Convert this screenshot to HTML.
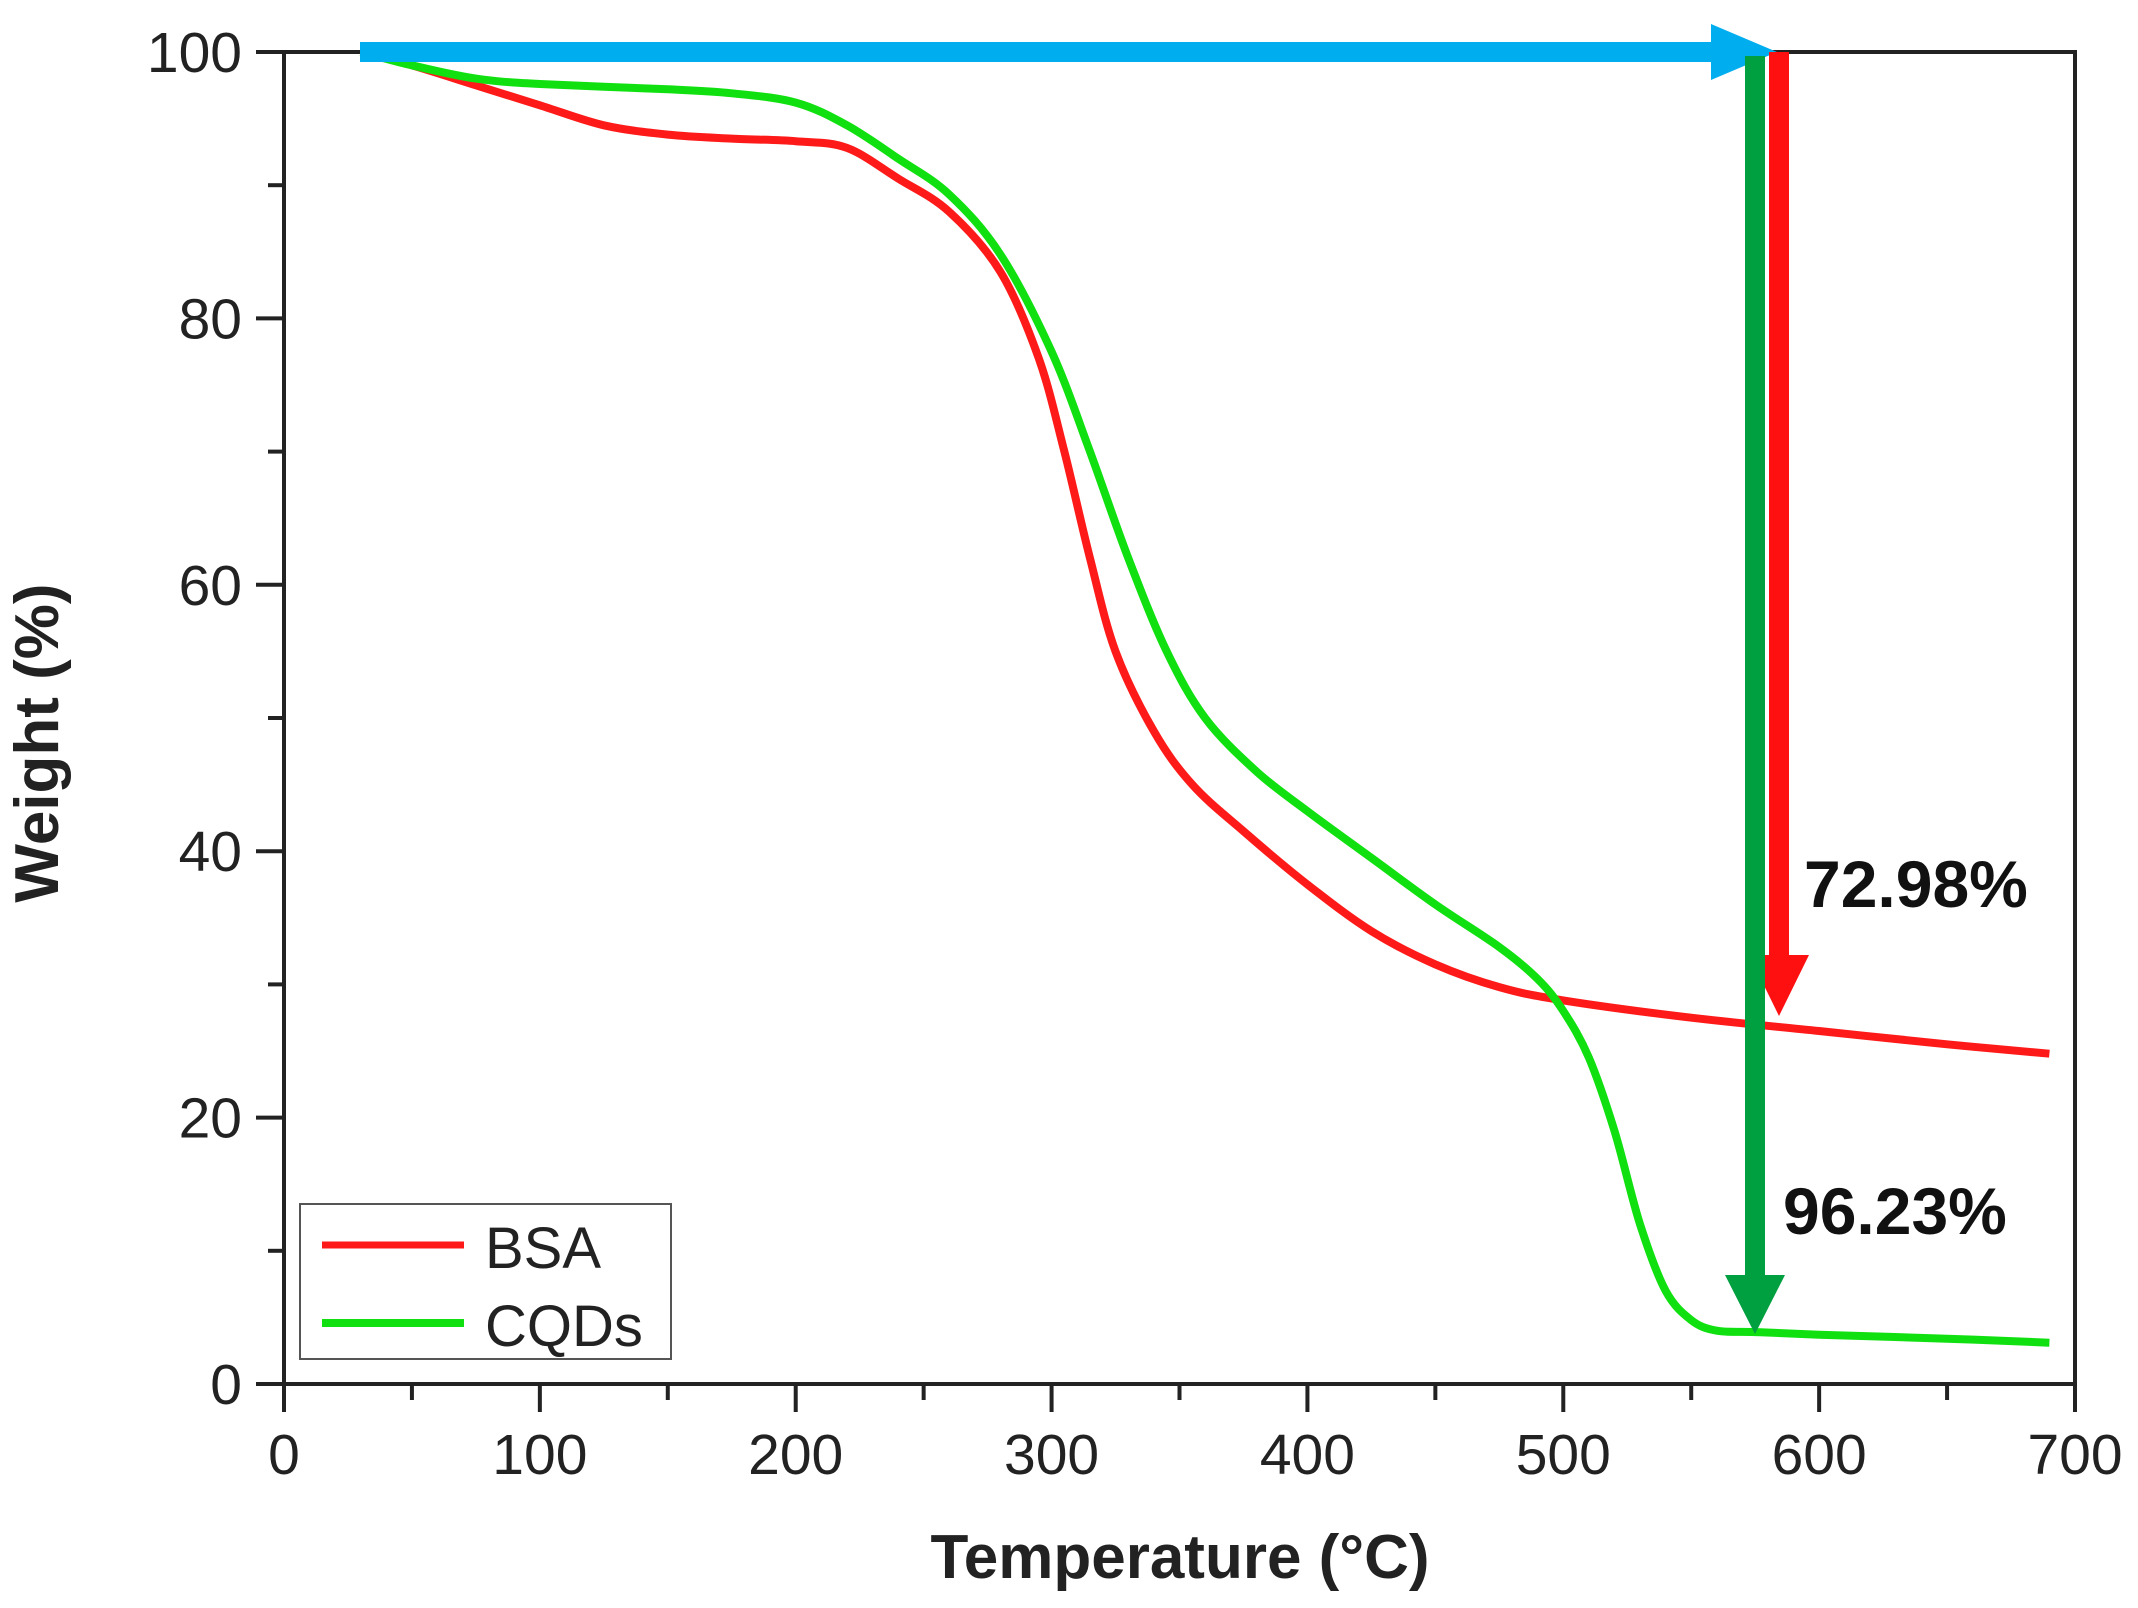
<!DOCTYPE html>
<html><head><meta charset="utf-8"><style>
html,body{margin:0;padding:0;background:#fff}
svg{display:block;font-family:"Liberation Sans",Arial,sans-serif}
</style></head><body>
<svg id="chart" width="2138" height="1608" viewBox="0 0 2138 1608">
<g id="axes"></g><g id="series"></g><g id="annot"></g>
</svg>
<script>
const xTicks=[0,100,200,300,400,500,600,700];
const yTicks=[0,20,40,60,80,100];
const bsaT=[30,50,75,100,125,150,175,200,220,240,260,280,295,305,315,325,340,355,375,400,425,450,475,500,550,600,650,690];
const bsaW=[100,99,97.5,96,94.5,93.8,93.5,93.3,92.8,90.5,88,83.5,77,70,62,55,49,45,41.5,37.5,34,31.5,29.8,28.8,27.5,26.5,25.5,24.8];
const cqdT=[30,50,75,100,150,175,200,220,240,260,280,300,315,330,345,360,380,400,425,450,475,490,500,510,520,530,540,550,560,575,600,650,690];
const cqdW=[100,99,98,97.6,97.2,96.9,96.2,94.5,92,89.3,84.8,77.5,70,62,55,50,46,43,39.5,36,32.8,30.4,28,24.5,19,12,7,4.8,4,3.9,3.7,3.4,3.1];
const NS="http://www.w3.org/2000/svg";
const X0=284,X1=2075,Y0=1384,Y1=52;
const sx=v=>X0+(v-0)/700*(X1-X0);
const sy=v=>Y0-(v-0)/100*(Y0-Y1);
function mk(tag,attrs,parent,txt){const e=document.createElementNS(NS,tag);for(const k in attrs)e.setAttribute(k,attrs[k]);if(txt!==undefined)e.textContent=txt;parent.appendChild(e);return e;}
const axes=document.getElementById('axes'),series=document.getElementById('series'),annot=document.getElementById('annot');
const frame=mk('rect',{x:X0,y:Y1,width:X1-X0,height:Y0-Y1,fill:'none',stroke:'#222','stroke-width':4},axes);


xTicks.forEach(t=>{
 const l=mk('line',{x1:sx(t),x2:sx(t),y1:Y0,y2:Y0+28,stroke:'#222','stroke-width':4},axes);
 
 
 const tx=mk('text',{x:sx(t),y:1474,'text-anchor':'middle','font-size':57,fill:'#222'},axes,String(t));
 
 
 if(t<700){const m=mk('line',{x1:sx(t+50),x2:sx(t+50),y1:Y0,y2:Y0+16,stroke:'#222','stroke-width':4},axes);
 
 }
});
yTicks.forEach(t=>{
 const l=mk('line',{x1:X0-28,x2:X0,y1:sy(t),y2:sy(t),stroke:'#222','stroke-width':4},axes);
 
 
 const tx=mk('text',{x:242,y:sy(t)+20,'text-anchor':'end','font-size':57,fill:'#222'},axes,String(t));
 
 
 if(t<100){const m=mk('line',{x1:X0-16,x2:X0,y1:sy(t+10),y2:sy(t+10),stroke:'#222','stroke-width':4},axes);
 
 }
});
const xt=mk('text',{x:1180,y:1578,'text-anchor':'middle','font-size':62,'font-weight':'bold',fill:'#222'},axes,'Temperature (°C)');


const yt=mk('text',{x:0,y:0,'text-anchor':'middle','font-size':62,'font-weight':'bold',fill:'#222',transform:'translate(58,743) rotate(-90)'},axes,'Weight (%)');


function smooth(ts,ws){const p=ts.map((t,i)=>[sx(t),sy(ws[i])]);let d='M'+p[0][0]+','+p[0][1];
 for(let i=0;i<p.length-1;i++){const a=p[Math.max(0,i-1)],b=p[i],c=p[i+1],e=p[Math.min(p.length-1,i+2)];
 const c1=[b[0]+(c[0]-a[0])/6,b[1]+(c[1]-a[1])/6],c2=[c[0]-(e[0]-b[0])/6,c[1]-(e[1]-b[1])/6];
 d+=' C'+c1[0].toFixed(1)+','+c1[1].toFixed(1)+' '+c2[0].toFixed(1)+','+c2[1].toFixed(1)+' '+c[0].toFixed(1)+','+c[1].toFixed(1);}
 return d;}
const pb=mk('path',{d:smooth(bsaT,bsaW),fill:'none',stroke:'#ff1a1a','stroke-width':8,'stroke-linejoin':'round'},series);


const pc=mk('path',{d:smooth(cqdT,cqdW),fill:'none',stroke:'#10e010','stroke-width':8,'stroke-linejoin':'round'},series);


const blue=mk('path',{d:'M360,42 L1711,42 L1711,24 L1777,52 L1711,80 L1711,62 L360,62 Z',fill:'#00aeef'},annot);


const red=mk('path',{d:'M1769,52 L1789,52 L1789,955 L1809,955 L1779,1016 L1749,955 L1769,955 Z',fill:'#ff1010'},annot);


const green=mk('path',{d:'M1745,56 L1765,56 L1765,1275 L1785,1275 L1755,1334 L1725,1275 L1745,1275 Z',fill:'#00a040'},annot);


const a1=mk('text',{x:1804,y:907,'font-size':66,'font-weight':'bold',fill:'#111'},annot,'72.98%');


const a2=mk('text',{x:1783,y:1234,'font-size':66,'font-weight':'bold',fill:'#111'},annot,'96.23%');


const lg=mk('g',{},annot);


mk('rect',{x:300,y:1204,width:371,height:155,fill:'#fff',stroke:'#555','stroke-width':2},lg);
const l1=mk('line',{x1:322,x2:464,y1:1245,y2:1245,stroke:'#ff1a1a','stroke-width':7},lg);


mk('text',{x:485,y:1268,'font-size':58,fill:'#222'},lg,'BSA');
const l2=mk('line',{x1:322,x2:464,y1:1323,y2:1323,stroke:'#10e010','stroke-width':8},lg);


mk('text',{x:485,y:1346,'font-size':58,fill:'#222'},lg,'CQDs');
</script>
</body></html>
